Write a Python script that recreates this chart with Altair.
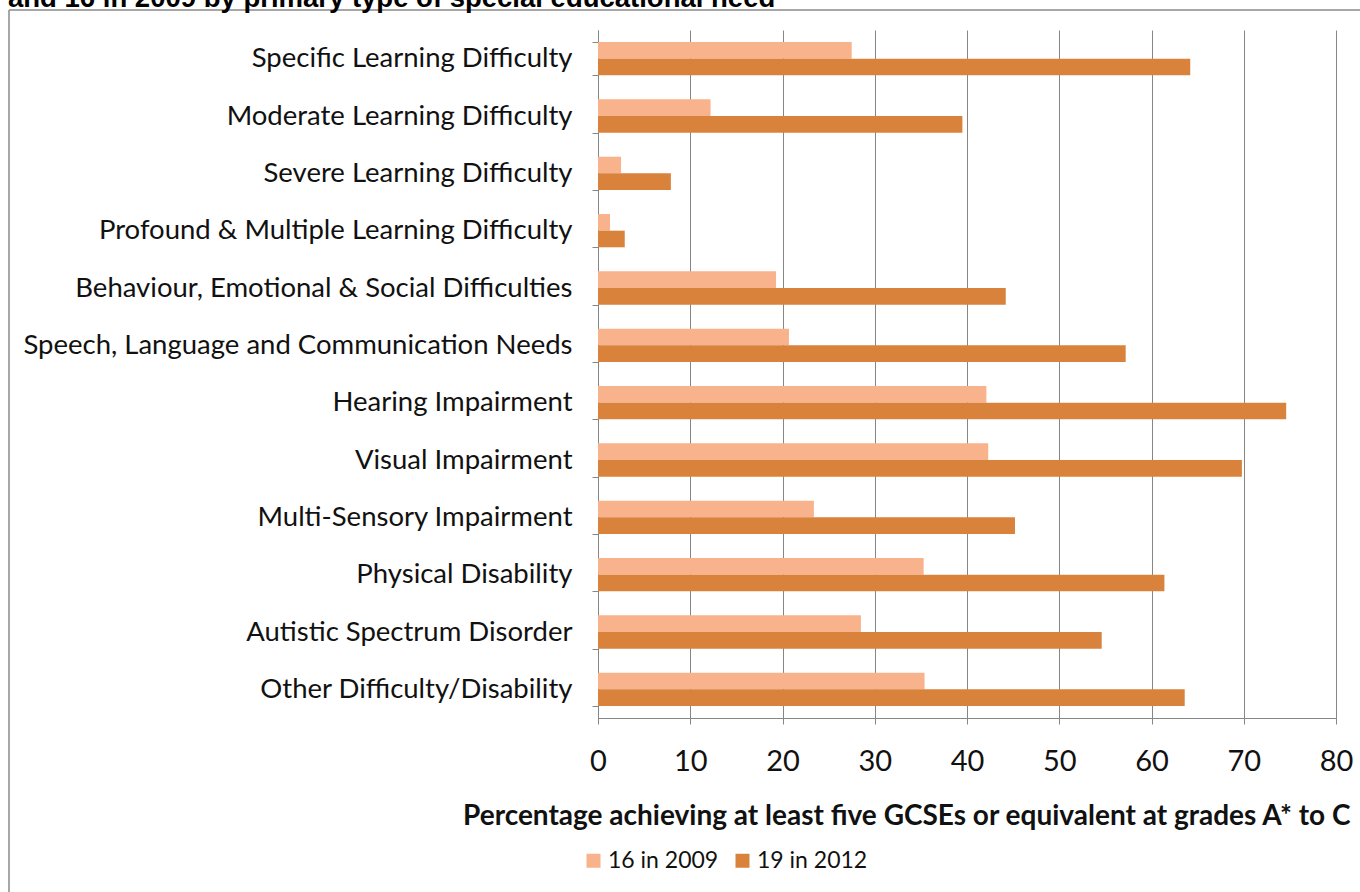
import altair as alt
import pandas as pd

categories = [
    "Specific Learning Difficulty",
    "Moderate Learning Difficulty",
    "Severe Learning Difficulty",
    "Profound & Multiple Learning Difficulty",
    "Behaviour, Emotional & Social Difficulties",
    "Speech, Language and Communication Needs",
    "Hearing Impairment",
    "Visual Impairment",
    "Multi-Sensory Impairment",
    "Physical Disability",
    "Autistic Spectrum Disorder",
    "Other Difficulty/Disability",
]
series_names = ["16 in 2009", "19 in 2012"]
values_2009 = [27.5, 12.2, 2.5, 1.3, 19.3, 20.7, 42.1, 42.3, 23.4, 35.3, 28.5, 35.4]
values_2012 = [64.2, 39.5, 7.9, 2.9, 44.2, 57.2, 74.6, 69.8, 45.2, 61.4, 54.6, 63.6]
x_ticks = [0, 10, 20, 30, 40, 50, 60, 70, 80]
colors = ["#F8B28C", "#D9823C"]

title_text = "and 16 in 2009 by primary type of special educational need"
x_title = "Percentage achieving at least five GCSEs or equivalent at grades A* to C"

rows = []
for c, a, b in zip(categories, values_2009, values_2012):
    rows.append({"Need": c, "Series": series_names[0], "Value": a})
    rows.append({"Need": c, "Series": series_names[1], "Value": b})
df = pd.DataFrame(rows)

FONT = "Lato"
GRID = "#868686"

bars = alt.Chart(df).mark_bar().encode(
    y=alt.Y(
        "Need:N",
        sort=categories,
        scale=alt.Scale(paddingInner=0.42, paddingOuter=0.21),
        axis=alt.Axis(
            title=None,
            labelFont=FONT,
            labelFontSize=27.5,
            labelColor="#111111",
            labelPadding=20,
            tickSize=6,
            tickBand="extent",
            tickColor=GRID,
            domainColor=GRID,
            labelLimit=600,
        ),
    ),
    yOffset=alt.YOffset("Series:N", sort=series_names, scale=alt.Scale(paddingInner=0, paddingOuter=0)),
    x=alt.X(
        "Value:Q",
        scale=alt.Scale(domain=[0, 80], nice=False),
        axis=alt.Axis(
            values=x_ticks,
            title=x_title,
            titleFont=FONT,
            titleFontSize=28,
            titleFontWeight="bold",
            titleColor="#111111",
            titleAlign="right",
            titleAnchor="end",
            titleX=752,
            titleY=106,
            titleBaseline="alphabetic",
            labelFont=FONT,
            labelFontSize=29,
            labelColor="#111111",
            labelPadding=23,
            labelFlush=False,
            tickSize=6,
            tickColor=GRID,
            domainColor=GRID,
            grid=True,
            gridColor=GRID,
            gridWidth=1,
        ),
    ),
    color=alt.Color(
        "Series:N",
        sort=series_names,
        scale=alt.Scale(domain=series_names, range=colors),
        legend=alt.Legend(
            title=None,
            orient="none",
            legendX=-16,
            legendY=819,
            direction="horizontal",
            symbolType="square",
            symbolSize=196,
            symbolStrokeWidth=0,
            labelFont=FONT,
            labelFontSize=23,
            labelColor="#111111",
            columnPadding=12,
            labelOffset=3,
        ),
    ),
)

one = pd.DataFrame({"t": [title_text]})
title = alt.Chart(one).mark_text(
    align="left", baseline="alphabetic", font="Liberation Sans", fontSize=27.5,
    fontWeight="bold", color="#000000",
).encode(text="t:N", x=alt.value(-590), y=alt.value(-23))

frame_top = alt.Chart(one).mark_rule(color="#8a8a8a", strokeWidth=1.5).encode(
    x=alt.value(-589), x2=alt.value(800), y=alt.value(-20)
)
frame_left = alt.Chart(one).mark_rule(color="#8a8a8a", strokeWidth=1.5).encode(
    x=alt.value(-589), y=alt.value(-20), y2=alt.value(900)
)

chart = alt.layer(frame_top, frame_left, bars, title).properties(
    width=738,
    height=688,
    autosize=alt.AutoSizeParams(type="none"),
    padding={"left": 598, "top": 30, "right": 24, "bottom": 174},
    background="white",
).configure_view(stroke=None)

chart.save("out.html", embed_options={"renderer": "svg", "actions": False})
